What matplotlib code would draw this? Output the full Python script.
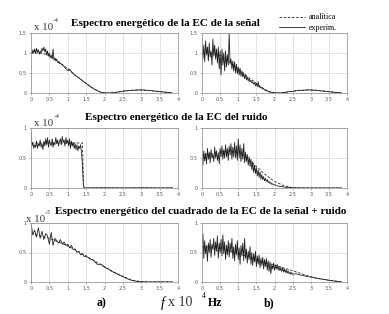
import numpy as np
import matplotlib
matplotlib.use("Agg")
import matplotlib.pyplot as plt

W, H = 389, 314

# ---------------- data ----------------
# analytic (dashed) curves
an_sig_x = [0, 0.1, 0.2, 0.3, 0.4, 0.5, 0.6, 0.7, 0.8, 0.9, 1.0, 1.1, 1.2, 1.3, 1.4, 1.5, 1.6, 1.7, 1.8, 1.9,
            2.0, 2.1, 2.2, 2.3, 2.4, 2.5, 2.6, 2.7, 2.8, 2.9, 3.0, 3.1, 3.2, 3.3, 3.4, 3.5, 3.6, 3.7, 3.8, 3.85]
an_sig_y = [1.0, 1.0, 1.0, 0.99, 0.97, 0.93, 0.88, 0.82, 0.75, 0.68, 0.60, 0.53, 0.45, 0.38, 0.31, 0.24, 0.17, 0.11, 0.06, 0.02,
            0.005, 0.0, 0.005, 0.015, 0.03, 0.045, 0.055, 0.065, 0.07, 0.075, 0.075, 0.07, 0.065, 0.055, 0.045, 0.035, 0.025, 0.015, 0.005, 0.0]

an_noise_l_x = [0, 1.4, 1.43, 3.85]
an_noise_l_y = [0.75, 0.75, 0.0, 0.0]

an_noise_r_x = [0, 0.25, 0.5, 0.75, 1.0, 1.25, 1.5, 1.75, 2.0, 2.25, 2.5, 2.75, 3.0, 3.85]
an_noise_r_y = [0.55, 0.57, 0.60, 0.62, 0.60, 0.50, 0.36, 0.22, 0.11, 0.04, 0.005, 0.0, 0.0, 0.0]

an_sq_l_x = [0, 0.25, 0.5, 0.75, 1.0, 1.25, 1.5, 1.75, 2.0, 2.25, 2.5, 2.75, 3.0, 3.25, 3.85]
an_sq_l_y = [0.82, 0.78, 0.74, 0.68, 0.61, 0.53, 0.44, 0.35, 0.26, 0.17, 0.095, 0.03, 0.005, 0.0, 0.0]

an_sq_r_x = [0, 0.25, 0.5, 0.75, 1.0, 1.25, 1.5, 1.75, 2.0, 2.25, 2.5, 2.75, 3.0, 3.25, 3.5, 3.75, 3.85]
an_sq_r_y = [0.60, 0.59, 0.57, 0.53, 0.49, 0.43, 0.37, 0.33, 0.29, 0.24, 0.19, 0.14, 0.09, 0.055, 0.03, 0.01, 0.0]

# experimental (solid) curves
ex_sig_l_x = [0, .025, .05, .075, .1, .125, .15, .175, .2, .225, .25, .275, .3, .325, .35, .375, .4, .425, .45, .475,
              .5, .525, .55, .575, .6, .625, .65, .675, .7, .725, .75, .775, .8,
              0.9, 1.0, 1.05, 1.1, 1.2, 1.3, 1.4, 1.5, 1.6, 1.7, 1.8, 1.9, 2.0, 2.1, 2.2, 2.3, 2.4, 2.5, 2.6, 2.7,
              2.8, 2.9, 3.0, 3.1, 3.2, 3.3, 3.4, 3.5, 3.6, 3.7, 3.8, 3.85]
ex_sig_l_y = [1.02, 0.98, 1.08, 1.0, 1.1, 0.99, 1.12, 1.02, 1.08, 0.97, 1.05, 1.0, 1.12, 1.05, 1.15, 1.03, 1.1, 0.95, 1.05, 0.92,
              1.0, 0.88, 0.95, 0.85, 1.1, 0.82, 0.88, 0.8, 0.85, 0.76, 0.78, 0.73, 0.74,
              0.66, 0.56, 0.6, 0.53, 0.44, 0.38, 0.31, 0.24, 0.17, 0.11, 0.06, 0.02, 0.005, 0.0, 0.005, 0.015, 0.03, 0.045, 0.055, 0.065,
              0.07, 0.075, 0.078, 0.07, 0.065, 0.055, 0.045, 0.035, 0.025, 0.015, 0.005, 0.0]

ex_sig_r_y_noisy = [1.10, 0.85, 1.20, 0.78, 1.30, 0.95, 1.15, 0.80, 1.25, 0.90, 1.05, 0.70, 1.35, 0.92, 1.20, 0.85,
                    1.10, 0.75, 1.15, 0.60, 1.05, 0.45, 1.10, 0.70, 1.00, 0.55, 1.05, 0.65, 0.95, 0.70, 1.50, 0.72,
                    0.85, 0.60, 0.80, 0.55, 0.78, 0.50, 0.72, 0.48, 0.65, 0.45, 0.62, 0.42, 0.55, 0.40, 0.50, 0.36,
                    0.46, 0.33, 0.40, 0.30, 0.36, 0.28, 0.32, 0.25, 0.28, 0.22, 0.26, 0.18, 0.24, 0.16, 0.28, 0.14,
                    0.17, 0.12, 0.14, 0.10, 0.11, 0.07, 0.08, 0.05, 0.055, 0.03, 0.035, 0.02, 0.02]
ex_sig_r_x_tail = [2.0, 2.1, 2.2, 2.3, 2.4, 2.5, 2.6, 2.7, 2.8, 2.9, 3.0, 3.1, 3.2, 3.3, 3.4, 3.5, 3.6, 3.7, 3.8, 3.85]
ex_sig_r_y_tail = [0.005, 0.0, 0.005, 0.015, 0.035, 0.04, 0.06, 0.07, 0.065, 0.08, 0.075, 0.07, 0.065, 0.05, 0.045,
                   0.03, 0.025, 0.012, 0.005, 0.0]

ex_noise_l_y_noisy = [0.95, 0.70, 0.76, 0.66, 0.72, 0.68, 0.78, 0.66, 0.74, 0.70, 0.80, 0.68, 0.74, 0.64, 0.78, 0.70,
                      0.82, 0.72, 0.84, 0.68, 0.80, 0.74, 0.70, 0.82, 0.68, 0.76, 0.72, 0.84, 0.74, 0.80, 0.70, 0.78,
                      0.82, 0.72, 0.86, 0.76, 0.80, 0.70, 0.84, 0.74, 0.80, 0.70, 0.82, 0.66, 0.78, 0.70, 0.76, 0.66,
                      0.74, 0.64, 0.72, 0.62, 0.70, 0.66, 0.72, 0.58, 0.40]
ex_noise_l_x_tail = [1.425, 1.45, 2.0, 2.5, 3.0, 3.5, 3.85]
ex_noise_l_y_tail = [0.05, 0.0, 0.004, 0.0, 0.004, 0.0, 0.003]

ex_noise_r_y_noisy = [0.50, 0.38, 0.62, 0.45, 0.58, 0.40, 0.66, 0.48, 0.60, 0.42, 0.64, 0.50, 0.56, 0.44, 0.68, 0.50,
                      0.62, 0.46, 0.58, 0.40, 0.66, 0.52, 0.70, 0.48, 0.64, 0.50, 0.72, 0.52, 0.66, 0.46, 0.70, 0.55,
                      0.74, 0.48, 0.68, 0.52, 0.76, 0.50, 0.70, 0.46, 0.82, 0.50, 0.72, 0.44, 0.66, 0.48, 0.74, 0.42,
                      0.60, 0.44, 0.56, 0.38, 0.52, 0.36, 0.48, 0.30, 0.44, 0.26, 0.38, 0.24, 0.34, 0.20, 0.30, 0.18,
                      0.27, 0.15, 0.22, 0.14, 0.19, 0.12, 0.16, 0.11, 0.14, 0.09, 0.11, 0.075, 0.09, 0.06, 0.07, 0.05, 0.055]
ex_noise_r_x_tail = [2.1, 2.2, 2.3, 2.4, 2.5, 2.7, 3.0, 3.85]
ex_noise_r_y_tail = [0.03, 0.025, 0.012, 0.008, 0.003, 0.001, 0.0, 0.0]

ex_sq_l_y_noisy = [1.0, 0.80, 0.88, 0.76, 0.92, 0.74, 0.86, 0.72, 0.82, 0.78, 0.64, 0.84, 0.62, 0.74, 0.70, 0.66,
                   0.72, 0.64, 0.68, 0.62, 0.64, 0.58, 0.62, 0.55, 0.56, 0.50, 0.52, 0.46, 0.48, 0.43, 0.44]
ex_sq_l_x_tail = [1.6, 1.7, 1.8, 1.9, 2.0, 2.1, 2.2, 2.3, 2.4, 2.5, 2.6, 2.7, 2.8, 2.9, 3.0, 3.2, 3.5, 3.85]
ex_sq_l_y_tail = [0.39, 0.37, 0.30, 0.30, 0.25, 0.22, 0.18, 0.15, 0.12, 0.09, 0.06, 0.035, 0.02, 0.01, 0.005, 0.0, 0.002, 0.0]

ex_sq_r_y_noisy = [0.55, 0.82, 0.40, 0.70, 0.48, 0.62, 0.35, 0.66, 0.50, 0.72, 0.42, 0.64, 0.55, 0.74, 0.45, 0.68,
                   0.52, 0.78, 0.40, 0.66, 0.50, 0.72, 0.44, 0.80, 0.48, 0.68, 0.38, 0.62, 0.46, 0.70, 0.42, 0.66,
                   0.50, 0.74, 0.40, 0.60, 0.36, 0.64, 0.46, 0.70, 0.38, 0.58, 0.30, 0.62, 0.44, 0.66, 0.36, 0.74,
                   0.40, 0.56, 0.32, 0.52, 0.38, 0.60, 0.30, 0.50, 0.28, 0.48, 0.34, 0.52, 0.26, 0.44, 0.30, 0.46,
                   0.24, 0.40, 0.28, 0.42, 0.22, 0.38, 0.26, 0.40, 0.20, 0.36, 0.18, 0.34, 0.14, 0.30, 0.22, 0.32,
                   0.20, 0.28, 0.22, 0.30, 0.20, 0.26, 0.19, 0.25, 0.18, 0.24, 0.17, 0.22, 0.16, 0.21, 0.15, 0.19,
                   0.14, 0.17, 0.13, 0.16, 0.13]
ex_sq_r_x_tail = [2.6, 2.7, 2.8, 2.9, 3.0, 3.1, 3.2, 3.3, 3.4, 3.5, 3.6, 3.7, 3.8, 3.85]
ex_sq_r_y_tail = [0.14, 0.12, 0.11, 0.09, 0.085, 0.07, 0.06, 0.05, 0.04, 0.03, 0.02, 0.012, 0.005, 0.0]

x_ticks = [0, 0.5, 1, 1.5, 2, 2.5, 3, 3.5, 4]
x_tick_labels = ["0", "0.5", "1", "1.5", "2", "2.5", "3", "3.5", "4"]

titles = ["Espectro energético de la EC de la señal",
          "Espectro energético de la EC del ruido",
          "Espectro energético del cuadrado de la EC de la señal + ruido"]
exponents = ["-4", "-4", "-3"]


def grid_x(n, step=0.025):
    return np.round(np.arange(n) * step, 4)


ex_sig_r_x = np.concatenate([grid_x(len(ex_sig_r_y_noisy)), ex_sig_r_x_tail])
ex_sig_r_y = ex_sig_r_y_noisy + ex_sig_r_y_tail
ex_noise_l_x = np.concatenate([grid_x(len(ex_noise_l_y_noisy)), ex_noise_l_x_tail])
ex_noise_l_y = ex_noise_l_y_noisy + ex_noise_l_y_tail
ex_noise_r_x = np.concatenate([grid_x(len(ex_noise_r_y_noisy)), ex_noise_r_x_tail])
ex_noise_r_y = ex_noise_r_y_noisy + ex_noise_r_y_tail
ex_sq_l_x = np.concatenate([grid_x(len(ex_sq_l_y_noisy), 0.05), ex_sq_l_x_tail])
ex_sq_l_y = ex_sq_l_y_noisy + ex_sq_l_y_tail
ex_sq_r_x = np.concatenate([grid_x(len(ex_sq_r_y_noisy)), ex_sq_r_x_tail])
ex_sq_r_y = ex_sq_r_y_noisy + ex_sq_r_y_tail

panels = [
    # (left, right, top, bottom) pixels, analytic, experimental, ylim, yticks
    ((31, 178, 33, 93), (an_sig_x, an_sig_y), (ex_sig_l_x, ex_sig_l_y), 1.5, [0, 0.5, 1, 1.5]),
    ((202, 347, 33, 93), (an_sig_x, an_sig_y), (ex_sig_r_x, ex_sig_r_y), 1.5, [0, 0.5, 1, 1.5]),
    ((31, 178, 128, 188), (an_noise_l_x, an_noise_l_y), (ex_noise_l_x, ex_noise_l_y), 1.0, [0, 0.5, 1]),
    ((202, 347, 128, 188), (an_noise_r_x, an_noise_r_y), (ex_noise_r_x, ex_noise_r_y), 1.0, [0, 0.5, 1]),
    ((31, 178, 223, 282), (an_sq_l_x, an_sq_l_y), (ex_sq_l_x, ex_sq_l_y), 1.0, [0, 0.5, 1]),
    ((202, 347, 223, 282), (an_sq_r_x, an_sq_r_y), (ex_sq_r_x, ex_sq_r_y), 1.0, [0, 0.5, 1]),
]

fig = plt.figure(figsize=(W / 100, H / 100), dpi=100)
fig.patch.set_facecolor("white")

serif = ["Liberation Serif", "DejaVu Serif"]

handles = None
for (l, r, t, b), an, ex, ymax, yt in panels:
    ax = fig.add_axes([l / W, (H - b) / H, (r - l) / W, (b - t) / H])
    ax.set_xlim(0, 4)
    ax.set_ylim(0, ymax)
    ax.set_xticks(x_ticks)
    ax.set_xticklabels(x_tick_labels)
    ax.set_yticks(yt)
    ax.set_yticklabels([f"{v:g}" for v in yt])
    ax.grid(True, color="#d8d8d8", linewidth=0.5)
    ax.set_axisbelow(True)
    for s in ax.spines.values():
        s.set_color("#9a9a9a")
        s.set_linewidth(0.6)
    ax.tick_params(labelsize=3.6, length=1.5, width=0.4, pad=1.5, colors="#777777", labelcolor="#555555")
    h1, = ax.plot(an[0], an[1], color="#222222", lw=0.6, ls=(0, (3, 2)))
    h2, = ax.plot(ex[0], ex[1], color="#222222", lw=0.6)
    handles = (h1, h2)

# titles and exponents
title_pos = [(165, 23), (176, 117), (201, 212)]
exp_pos = [((34, 27), (53, 21)), ((34, 123), (54, 117)), ((26, 219), (45, 212))]
for txt, (cx, cy), ex_t, ((bx, by), (sx, sy)) in zip(titles, title_pos, exponents, exp_pos):
    fig.text(cx / W, 1 - cy / H, txt, ha="center", va="center", fontsize=8.05,
             fontweight="bold", family=serif)
    fig.text(bx / W, 1 - by / H, "x 10", ha="left", va="center", fontsize=7.8,
             family=serif, color="#333333")
    fig.text(sx / W, 1 - sy / H, ex_t, ha="left", va="center", fontsize=5.0,
             family=serif, color="#333333")

# legend
fig.legend(handles, ["analítica", "experim."], loc="center",
           bbox_to_anchor=(308 / W, 1 - 22.5 / H), frameon=False,
           prop={"family": serif, "size": 5.8}, handlelength=3.2,
           handletextpad=0.5, labelspacing=0.25, borderpad=0)

# bottom labels
fig.text(102 / W, 1 - 303 / H, "a)", ha="center", va="center", fontsize=8.5,
         fontweight="bold", family=serif)
fig.text(269 / W, 1 - 303 / H, "b)", ha="center", va="center", fontsize=8.5,
         fontweight="bold", family=serif)
fig.text(161 / W, 1 - 303 / H, "f", ha="left", va="center", fontsize=10,
         style="italic", family=serif)
fig.text(168 / W, 1 - 303 / H, "x 10", ha="left", va="center", fontsize=10,
         family=serif, color="#333333")
fig.text(202 / W, 1 - 296 / H, "4", ha="left", va="center", fontsize=5.5,
         family=serif)
fig.text(208 / W, 1 - 303 / H, "Hz", ha="left", va="center", fontsize=8.5,
         fontweight="bold", family=serif)

fig.savefig("out.png", dpi=100, facecolor="white")
